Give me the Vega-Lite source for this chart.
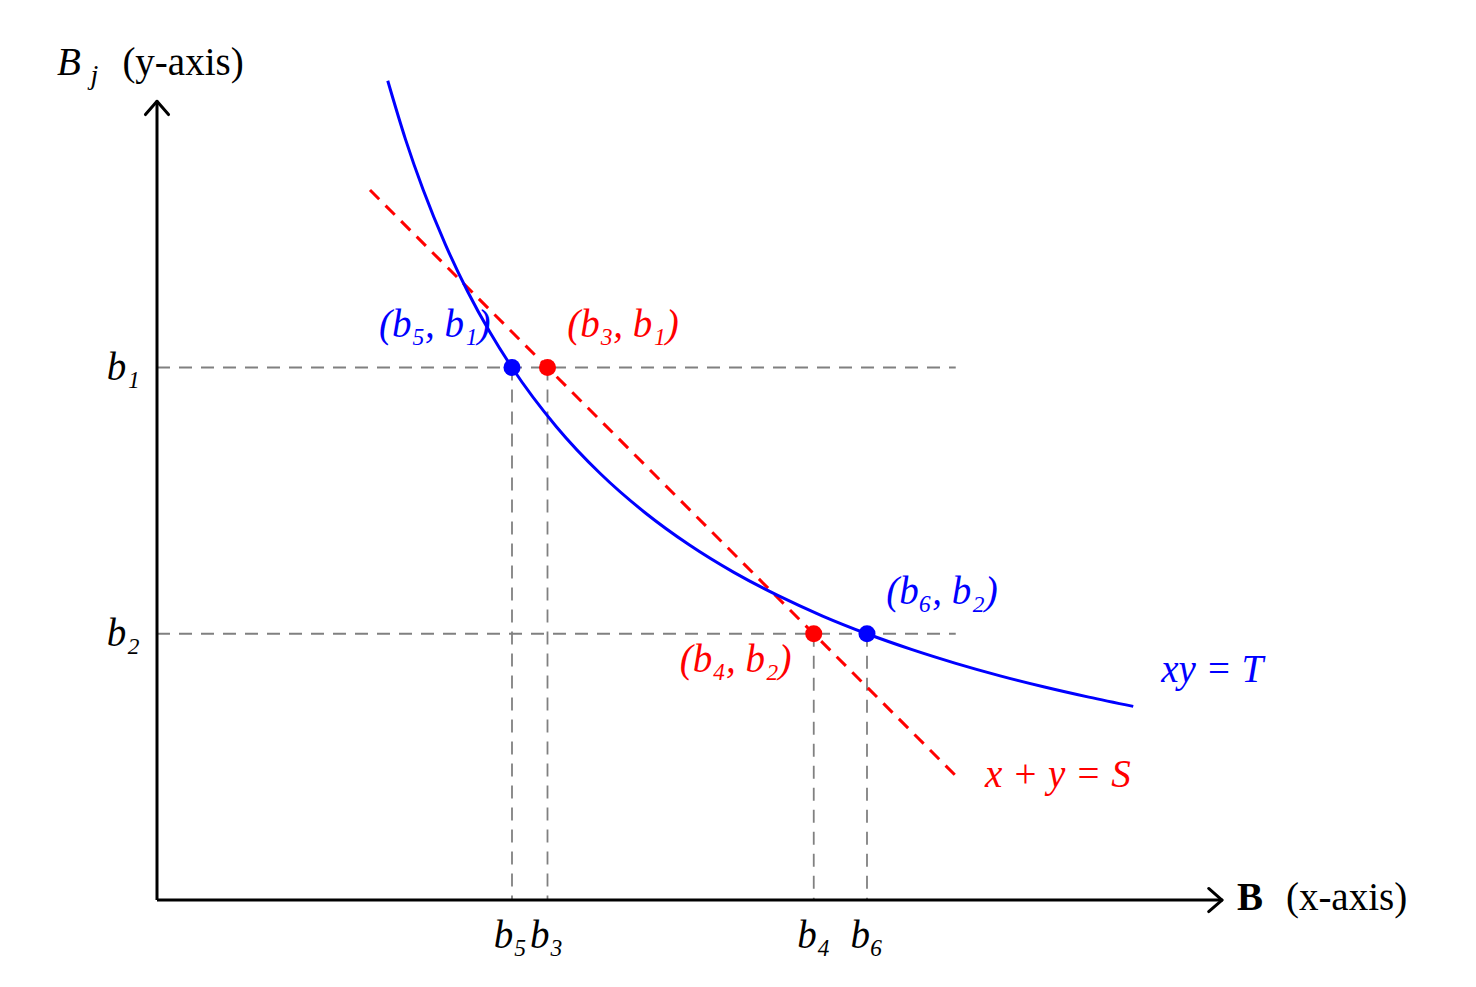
{
  "$schema": "https://vega.github.io/schema/vega-lite/v6.json",
  "width": 1476,
  "height": 987,
  "autosize": {"type": "none"},
  "padding": 0,
  "background": "white",
  "config": {"view": {"stroke": null}},
  "datasets": {
    "axes": [
      {"x": 0, "y": 0, "x2": 12, "y2": 0},
      {"x": 0, "y": 0, "x2": 0, "y2": 9}
    ],
    "arrows": [
      {"x": 11.85, "y": 0.13, "x2": 12, "y2": 0},
      {"x": 11.85, "y": -0.13, "x2": 12, "y2": 0},
      {"x": -0.13, "y": 8.85, "x2": 0, "y2": 9},
      {"x": 0.13, "y": 8.85, "x2": 0, "y2": 9}
    ],
    "guides": [
      {"x": 0, "y": 6, "x2": 9, "y2": 6},
      {"x": 0, "y": 3, "x2": 9, "y2": 3},
      {"x": 4, "y": 6, "x2": 4, "y2": 0},
      {"x": 4.4, "y": 6, "x2": 4.4, "y2": 0},
      {"x": 7.4, "y": 3, "x2": 7.4, "y2": 0},
      {"x": 8, "y": 3, "x2": 8, "y2": 0}
    ],
    "budget": [
      {"x": 2.4, "y": 8.0, "x2": 9, "y2": 1.4}
    ],
    "curve": [
      {"x": 2.6, "y": 9.231},
      {"x": 2.8, "y": 8.571},
      {"x": 3.0, "y": 8.0},
      {"x": 3.25, "y": 7.385},
      {"x": 3.5, "y": 6.857},
      {"x": 3.75, "y": 6.4},
      {"x": 4.0, "y": 6.0},
      {"x": 4.5, "y": 5.333},
      {"x": 5.0, "y": 4.8},
      {"x": 5.5, "y": 4.364},
      {"x": 6.0, "y": 4.0},
      {"x": 6.5, "y": 3.692},
      {"x": 7.0, "y": 3.429},
      {"x": 7.5, "y": 3.2},
      {"x": 8.0, "y": 3.0},
      {"x": 8.5, "y": 2.824},
      {"x": 9.0, "y": 2.667},
      {"x": 9.5, "y": 2.526},
      {"x": 10.0, "y": 2.4},
      {"x": 10.5, "y": 2.286},
      {"x": 11.0, "y": 2.182}
    ],
    "points": [
      {"x": 4, "y": 6, "set": "xy = T"},
      {"x": 8, "y": 3, "set": "xy = T"},
      {"x": 4.4, "y": 6, "set": "x + y = S"},
      {"x": 7.4, "y": 3, "set": "x + y = S"}
    ],
    "pointLabels": [
      {"x": 3.13, "y": 6.48, "label": "(b₅, b₁)", "set": "xy = T"},
      {"x": 8.845, "y": 3.47, "label": "(b₆, b₂)", "set": "xy = T"},
      {"x": 5.25, "y": 6.48, "label": "(b₃, b₁)", "set": "x + y = S"},
      {"x": 6.52, "y": 2.7, "label": "(b₄, b₂)", "set": "x + y = S"},
      {"x": 11.89, "y": 2.59, "label": "xy = T", "set": "xy = T"},
      {"x": 10.15, "y": 1.41, "label": "x + y = S", "set": "x + y = S"}
    ],
    "ticks": [
      {"x": -0.38, "y": 6, "label": "b₁"},
      {"x": -0.38, "y": 3, "label": "b₂"},
      {"x": 3.98, "y": -0.4, "label": "b₅"},
      {"x": 4.39, "y": -0.4, "label": "b₃"},
      {"x": 7.4, "y": -0.4, "label": "b₄"},
      {"x": 8.0, "y": -0.4, "label": "b₆"}
    ],
    "titleMath": [
      {"x": -1.127, "y": 9.43, "label": "B"}
    ],
    "titleSub": [
      {"x": -0.75, "y": 9.29, "label": "j"}
    ],
    "titleText": [
      {"x": -0.39, "y": 9.43, "label": "(y-axis)"},
      {"x": 12.72, "y": 0.02, "label": "(x-axis)"}
    ],
    "titleBold": [
      {"x": 12.17, "y": 0.02, "label": "B"}
    ]
  },
  "encoding": {
    "x": {"field": "x", "type": "quantitative", "axis": null,
          "scale": {"domain": [-1.769, 14.862], "nice": false, "zero": false}},
    "y": {"field": "y", "type": "quantitative", "axis": null,
          "scale": {"domain": [-0.98, 10.141], "nice": false, "zero": false}}
  },
  "layer": [
    {
      "data": {"name": "guides"},
      "mark": {"type": "rule", "color": "#808080", "strokeWidth": 1.8, "strokeDash": [13, 9]},
      "encoding": {"x2": {"field": "x2"}, "y2": {"field": "y2"}}
    },
    {
      "data": {"name": "axes"},
      "mark": {"type": "rule", "color": "black", "strokeWidth": 3},
      "encoding": {"x2": {"field": "x2"}, "y2": {"field": "y2"}}
    },
    {
      "data": {"name": "arrows"},
      "mark": {"type": "rule", "color": "black", "strokeWidth": 3, "strokeCap": "round"},
      "encoding": {"x2": {"field": "x2"}, "y2": {"field": "y2"}}
    },
    {
      "data": {"name": "budget"},
      "mark": {"type": "rule", "color": "#ff0000", "strokeWidth": 3, "strokeDash": [13, 9]},
      "encoding": {"x2": {"field": "x2"}, "y2": {"field": "y2"}}
    },
    {
      "data": {"name": "curve"},
      "mark": {"type": "line", "color": "#0000ff", "strokeWidth": 3, "interpolate": "monotone"},
      "encoding": {"order": {"field": "x", "type": "quantitative"}}
    },
    {
      "data": {"name": "points"},
      "mark": {"type": "circle", "size": 290, "opacity": 1},
      "encoding": {
        "color": {"field": "set", "type": "nominal", "legend": null,
                  "scale": {"domain": ["xy = T", "x + y = S"], "range": ["#0000ff", "#ff0000"]}}
      }
    },
    {
      "data": {"name": "pointLabels"},
      "mark": {"type": "text", "font": "Liberation Serif", "fontStyle": "italic", "fontSize": 39, "align": "center", "baseline": "middle"},
      "encoding": {
        "text": {"field": "label"},
        "color": {"field": "set", "type": "nominal", "legend": null,
                  "scale": {"domain": ["xy = T", "x + y = S"], "range": ["#0000ff", "#ff0000"]}}
      }
    },
    {
      "data": {"name": "ticks"},
      "mark": {"type": "text", "font": "Liberation Serif", "fontStyle": "italic", "fontSize": 39, "align": "center", "baseline": "middle", "color": "black"},
      "encoding": {"text": {"field": "label"}}
    },
    {
      "data": {"name": "titleMath"},
      "mark": {"type": "text", "font": "Liberation Serif", "fontStyle": "italic", "fontSize": 39, "align": "left", "baseline": "middle", "color": "black"},
      "encoding": {"text": {"field": "label"}}
    },
    {
      "data": {"name": "titleSub"},
      "mark": {"type": "text", "font": "Liberation Serif", "fontStyle": "italic", "fontSize": 28, "align": "left", "baseline": "middle", "color": "black"},
      "encoding": {"text": {"field": "label"}}
    },
    {
      "data": {"name": "titleText"},
      "mark": {"type": "text", "font": "Liberation Serif", "fontSize": 39, "align": "left", "baseline": "middle", "color": "black"},
      "encoding": {"text": {"field": "label"}}
    },
    {
      "data": {"name": "titleBold"},
      "mark": {"type": "text", "font": "Liberation Serif", "fontWeight": "bold", "fontSize": 39, "align": "left", "baseline": "middle", "color": "black"},
      "encoding": {"text": {"field": "label"}}
    }
  ]
}
